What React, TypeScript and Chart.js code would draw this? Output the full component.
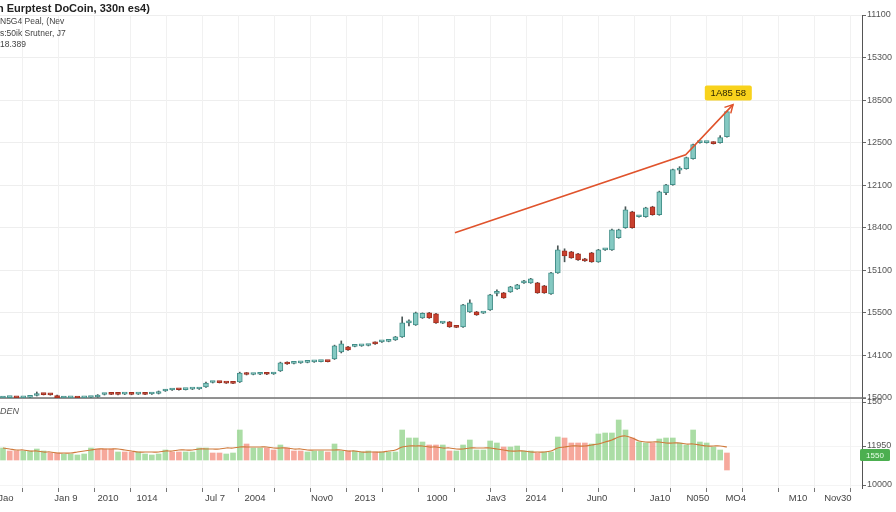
import React, { useEffect, useRef } from "react";
import { Chart, registerables } from "chart.js";
Chart.register(...registerables);

// ---------- DATA ----------
const opens = [14000,14004,14005,14002,14006,14025,14040,14038,14025,14000,
 14002,14004,14002,14005,14010,14035,14042,14040,14038,14040,
 14039,14042,14040,14045,14070,14080,14085,14084,14088,14090,
 14110,14155,14160,14154,14150,14160,14250,14235,14237,14242,
 14240,14270,14355,14345,14350,14355,14360,14364,14368,14390,
 14460,14510,14515,14520,14524,14555,14560,14565,14580,14610,
 14750,14730,14800,14850,14840,14748,14760,14710,14710,14860,
 14860,14848,14880,15045,15050,15060,15090,15150,15150,15150,
 15120,15040,15250,15470,15460,15440,15390,15450,15360,15480,
 15480,15600,15700,15860,15810,15810,15910,15830,16050,16130,
 16275,16290,16390,16550,16550,16555,16550,16610];
const closes = [14005,14007,14002,14006,14008,14045,14034,14032,14000,14004,
 14005,14000,14005,14007,14030,14040,14037,14036,14041,14036,
 14043,14037,14044,14065,14080,14085,14082,14088,14092,14094,
 14150,14160,14154,14149,14146,14250,14235,14238,14242,14237,
 14245,14350,14340,14350,14356,14360,14365,14369,14364,14520,
 14540,14480,14520,14525,14530,14540,14565,14570,14610,14750,
 14755,14850,14845,14800,14750,14752,14710,14706,14930,14950,
 14830,14852,15030,15050,15000,15110,15130,15170,15190,15050,
 15050,15250,15480,15420,15400,15380,15370,15360,15480,15485,
 15680,15680,15880,15700,15815,15900,15830,16060,16130,16280,
 16280,16400,16530,16560,16553,16540,16600,16860];
const highs = [14010,14012,14010,14010,14012,14060,14045,14042,14030,14008,
 14009,14008,14009,14011,14034,14045,14046,14044,14045,14044,
 14047,14046,14048,14070,14085,14090,14089,14092,14096,14098,
 14158,14165,14164,14158,14154,14258,14255,14242,14246,14246,
 14249,14358,14360,14354,14360,14364,14369,14373,14372,14528,
 14570,14515,14524,14529,14534,14560,14569,14574,14615,14810,
 14780,14858,14850,14855,14845,14757,14765,14714,14936,14980,
 14865,14856,15036,15080,15055,15115,15135,15175,15195,15155,
 15125,15255,15520,15490,15465,15445,15395,15455,15485,15490,
 15686,15686,15910,15865,15820,15905,15915,16066,16135,16286,
 16310,16406,16536,16565,16558,16560,16620,16866];
const lows = [13995,14000,13998,13998,14002,14020,14030,14028,13996,13996,
 13998,13996,13998,14001,14006,14030,14033,14032,14034,14032,
 14035,14033,14036,14040,14066,14076,14078,14080,14084,14086,
 14105,14150,14150,14145,14142,14155,14230,14231,14233,14233,
 14236,14265,14336,14341,14346,14351,14356,14360,14360,14385,
 14450,14475,14511,14516,14520,14536,14556,14561,14575,14605,
 14720,14725,14795,14795,14745,14743,14705,14702,14705,14855,
 14825,14844,14875,15020,14995,15055,15085,15145,15145,15045,
 15045,15035,15245,15360,15395,15375,15365,15355,15355,15475,
 15475,15595,15695,15695,15805,15805,15825,15825,16030,16125,
 16240,16285,16385,16545,16546,16536,16545,16605];

const volumes = [1200,900,900,900,900,1100,900,700,700,600,
 600,500,600,1200,1100,1100,1100,800,800,800,
 800,600,500,600,1000,800,800,800,800,1200,
 1200,700,700,600,700,3000,1600,1200,1200,1200,
 1000,1500,1200,900,900,800,900,900,800,1600,
 900,900,900,800,900,800,800,800,800,3000,
 2200,2200,1800,1500,1500,1500,900,900,1500,2000,
 1000,1000,1900,1700,1300,1300,1400,900,900,700,
 800,800,2300,2200,1700,1700,1700,1600,2600,2700,
 2700,4000,3000,2200,1800,1700,1700,2100,2200,2200,
 1700,1500,3000,1800,1700,1300,1000,700];
const lastVolumeLow = -1000;
const volumeUp = [1,0,0,1,1,1,1,0,0,1,
 1,1,1,1,0,0,0,1,0,0,
 1,1,1,1,1,0,0,1,1,1,
 1,0,0,1,1,1,0,1,1,0,
 0,1,0,0,0,1,1,1,0,1,
 1,0,1,1,1,0,1,1,1,1,
 1,1,1,0,0,1,0,1,1,1,
 1,1,1,1,0,1,1,1,1,0,
 1,1,1,0,0,0,0,1,1,1,
 1,1,1,0,1,1,0,1,1,1,
 1,1,1,1,1,1,1,0];
const volumeMA = [1200,1100,1000,1000,900,900,
 800,800,700,700,700,800,900,1000,
 1100,1100,1100,1100,1000,900,800,
 800,800,800,900,900,1000,1000,1000,
 1100,1100,1100,1100,1200,1200,
 1300,1300,1300,1300,1300,1200,1200,
 1200,1100,1100,1000,1000,1000,1000,
 1000,1000,900,900,800,800,800,800,900,1000,
 1300,1400,1400,1400,1300,1300,1200,1200,
 1100,1100,1200,1200,1200,1200,
 1100,1000,900,900,900,800,800,800,900,
 1200,1300,1400,1400,1400,1500,1600,1800,2000,
 2300,2400,2200,1900,1800,1800,
 1800,1700,1700,1700,1600,1600,1500,1400,1400,1400,
 1300];

const trendX = [66.8, 100.9, 107.9];
const trendY = [15650, 16430, 16930];
const annotationX = 107.2;
const annotationY = 17045;
const annotationLabel = "1A85 58";
const volumeTagValue = 500;
const volumeTagLabel = "1550";

const priceTickValues = [14000, 14425, 14850, 15275, 15700, 16125, 16550, 16975, 17400, 17825];
const priceTickLabels = ["15000", "14100", "15500", "15100", "18400", "12100", "12500", "18500", "15300", "11100"];
const volTickValues = [5800, 1400, -2500];
const volTickLabels = ["150", "11950", "10000"];
const xLabelPositions = [0.44, 9.31, 15.52, 21.28, 31.33, 37.25, 47.15, 53.5, 64.14, 72.86, 78.78, 87.79, 97.1, 102.7, 108.3, 117.5, 123.4];
const xLabels = ["Jao", "Jan 9", "2010", "1014", "Jul 7", "2004", "Nov0", "2013", "1000", "Jav3", "2014", "Jun0", "Ja10", "N050", "MO4", "M10", "Nov30"];

const titleLine = "n Eurptest DoCoin, 330n es4)";
const infoLines = ["N5G4 Peal, (Nev", "s:50ik Srutner, J7", "18.389"];
const volumePaneLabel = "DEN";

// ---------- STYLE ----------
const FONT = "'Liberation Sans', Arial, sans-serif";
const TEAL_FILL = "#84c9c2";
const TEAL_EDGE = "#438f89";
const RED_FILL = "#c9402e";
const RED_EDGE = "#a02f20";
const WICK = "#4a5656";
const VOL_UP = "rgba(120,200,110,0.62)";
const VOL_DOWN = "rgba(240,115,95,0.62)";
const MA_COLOR = "#cf7a3c";
const TREND_COLOR = "#e0532c";
const X_MIN = -0.44;
const X_MAX = 126.96;
const GRID_START = 2.95;
const GRID_STEP = 5.32;

const overlayPlugin = {
  id: "overlay",
  beforeDatasetsDraw(chart: any) {
    const { ctx, chartArea, scales } = chart;
    const y = scales.y;
    ctx.save();
    ctx.strokeStyle = "#6f6f6f";
    ctx.lineWidth = 1.5;
    ctx.beginPath();
    ctx.moveTo(chartArea.left, y.bottom);
    ctx.lineTo(chartArea.right + 4, y.bottom);
    ctx.stroke();
    ctx.restore();
  },
  afterDatasetsDraw(chart: any) {
    const { ctx, scales } = chart;
    const x = scales.x, y = scales.y, yv = scales.yVol;
    ctx.save();
    // arrow head
    const n = trendX.length;
    const ax = x.getPixelForValue(trendX[n - 1]);
    const ay = y.getPixelForValue(trendY[n - 1]);
    const bx = x.getPixelForValue(trendX[n - 2]);
    const by = y.getPixelForValue(trendY[n - 2]);
    const ang = Math.atan2(ay - by, ax - bx);
    ctx.strokeStyle = TREND_COLOR;
    ctx.lineWidth = 1.5;
    ctx.beginPath();
    ctx.moveTo(ax - 9 * Math.cos(ang - 0.5), ay - 9 * Math.sin(ang - 0.5));
    ctx.lineTo(ax, ay);
    ctx.lineTo(ax - 9 * Math.cos(ang + 0.5), ay - 9 * Math.sin(ang + 0.5));
    ctx.stroke();
    // yellow label
    const cx = x.getPixelForValue(annotationX);
    const cy = y.getPixelForValue(annotationY);
    const w = 47, h = 15;
    ctx.fillStyle = "#f8d21c";
    ctx.beginPath();
    (ctx as any).roundRect(cx - w / 2, cy - h / 2, w, h, 2);
    ctx.fill();
    ctx.fillStyle = "#2e2600";
    ctx.font = `9.5px ${FONT}`;
    ctx.textAlign = "center";
    ctx.textBaseline = "middle";
    ctx.fillText(annotationLabel, cx, cy + 0.5);
    // green tag on volume axis
    const ty = yv.getPixelForValue(volumeTagValue);
    ctx.fillStyle = "#4caf50";
    ctx.beginPath();
    (ctx as any).roundRect(yv.left - 2, ty - 6, 30, 12, 1.5);
    ctx.fill();
    ctx.fillStyle = "#e8ffe8";
    ctx.font = `8px ${FONT}`;
    ctx.fillText(volumeTagLabel, yv.left + 13, ty + 0.5);
    ctx.restore();
  },
};

export default function App() {
  const ref = useRef<HTMLCanvasElement>(null);
  useEffect(() => {
    const canvas = ref.current;
    if (!canvas) return;
    const last = closes.length - 1;
    const isUp = (i: number) => closes[i] >= opens[i];
    const chart = new Chart(canvas, {
      type: "bar",
      data: {
        datasets: [
          {
            type: "line",
            label: "trend",
            data: trendX.map((v, i) => ({ x: v, y: trendY[i] })),
            yAxisID: "y",
            xAxisID: "x",
            borderColor: TREND_COLOR,
            borderWidth: 1.6,
            pointRadius: 0,
            tension: 0,
            order: 1,
          } as any,
          {
            type: "bar",
            label: "body",
            data: closes.map((c, i) => ({ x: i, y: [opens[i], c] })),
            yAxisID: "y",
            xAxisID: "x",
            grouped: false,
            barThickness: 5,
            minBarLength: 2,
            backgroundColor: (c: any) => (isUp(c.dataIndex) ? TEAL_FILL : RED_FILL),
            borderColor: (c: any) => (isUp(c.dataIndex) ? TEAL_EDGE : RED_EDGE),
            borderWidth: 1,
            borderSkipped: false,
            order: 2,
          } as any,
          {
            type: "bar",
            label: "wick",
            data: highs.map((h, i) => ({ x: i, y: [lows[i], h] })),
            yAxisID: "y",
            xAxisID: "x",
            grouped: false,
            barThickness: 1,
            backgroundColor: WICK,
            borderWidth: 0,
            order: 3,
          } as any,
          {
            type: "line",
            label: "volMA",
            data: volumeMA.map((v, i) => ({ x: i, y: v })),
            yAxisID: "yVol",
            xAxisID: "x",
            borderColor: MA_COLOR,
            borderWidth: 1.2,
            pointRadius: 0,
            tension: 0.35,
            order: 4,
          } as any,
          {
            type: "bar",
            label: "volume",
            data: volumes.map((v, i) => ({ x: i, y: i === last ? [lastVolumeLow, v] : v })),
            yAxisID: "yVol",
            xAxisID: "x",
            grouped: false,
            barThickness: 5,
            backgroundColor: (c: any) => (volumeUp[c.dataIndex] ? VOL_UP : VOL_DOWN),
            borderWidth: 0,
            order: 5,
          } as any,
        ],
      },
      options: {
        responsive: false,
        animation: false,
        events: [],
        layout: { padding: { top: 15, left: 0, right: 0, bottom: 0 } },
        plugins: { legend: { display: false }, tooltip: { enabled: false } },
        scales: {
          y: {
            type: "linear",
            position: "right",
            stack: "main",
            stackWeight: 383,
            weight: 0,
            min: 14000,
            max: 17825,
            afterBuildTicks: (s: any) => {
              s.ticks = priceTickValues.map((v) => ({ value: v }));
            },
            afterFit: (s: any) => {
              s.width = 34;
              s.paddingTop = 0;
              s.paddingBottom = 0;
            },
            ticks: {
              autoSkip: false,
              padding: 1,
              color: "#555",
              font: { family: FONT, size: 9 },
              callback: (_v: any, i: number) => priceTickLabels[i],
            },
            grid: { color: "#eeeeee", tickColor: "#666", tickLength: 4, drawTicks: true },
            border: { display: true, color: "#555", width: 1 },
          },
          yVol: {
            type: "linear",
            position: "right",
            stack: "main",
            stackWeight: 90,
            weight: 1,
            min: -2800,
            max: 6200,
            afterBuildTicks: (s: any) => {
              s.ticks = volTickValues.map((v) => ({ value: v }));
            },
            afterFit: (s: any) => {
              s.width = 34;
              s.paddingTop = 0;
              s.paddingBottom = 0;
            },
            ticks: {
              autoSkip: false,
              padding: 1,
              color: "#555",
              font: { family: FONT, size: 9 },
              callback: (_v: any, i: number) => volTickLabels[i],
            },
            grid: { color: "#f4f4f4", tickColor: "#666", tickLength: 4, drawTicks: true },
            border: { display: true, color: "#555", width: 1 },
          },
          x2: {
            type: "linear",
            position: "bottom",
            weight: 0,
            min: X_MIN,
            max: X_MAX,
            offset: false,
            afterBuildTicks: (s: any) => {
              const t: any[] = [];
              for (let v = GRID_START; v <= X_MAX; v += GRID_STEP) t.push({ value: v });
              s.ticks = t;
            },
            afterFit: (s: any) => {
              s.height = 0;
              s.paddingLeft = 0;
              s.paddingRight = 0;
            },
            ticks: { display: false, autoSkip: false },
            grid: { color: "#f1f1f1", tickColor: "#777", tickLength: 4, drawTicks: true, offset: false },
            border: { display: false },
          },
          x: {
            type: "linear",
            position: "bottom",
            weight: 1,
            min: X_MIN,
            max: X_MAX,
            offset: false,
            afterBuildTicks: (s: any) => {
              s.ticks = xLabelPositions.map((v) => ({ value: v }));
            },
            afterFit: (s: any) => {
              s.height = 24;
              s.paddingLeft = 0;
              s.paddingRight = 0;
            },
            ticks: {
              autoSkip: false,
              maxRotation: 0,
              minRotation: 0,
              padding: 5,
              color: "#444",
              font: { family: FONT, size: 9.5 },
              callback: (_v: any, i: number) => xLabels[i],
            },
            grid: { display: false, drawTicks: false, offset: false },
            border: { display: false },
          },
        },
      } as any,
      plugins: [overlayPlugin],
    });
    return () => chart.destroy();
  }, []);

  return (
    <div
      style={{
        position: "fixed",
        left: 0,
        top: 0,
        width: 896,
        height: 512,
        background: "#fff",
        overflow: "hidden",
        fontFamily: FONT,
      }}
    >
      <canvas ref={ref} width={896} height={512} style={{ position: "absolute", left: 0, top: 0, width: 896, height: 512 }} />
      <div style={{ position: "absolute", left: -3, top: 2, fontSize: 11, fontWeight: 700, color: "#222", whiteSpace: "nowrap", lineHeight: "13px" }}>
        {titleLine}
      </div>
      {infoLines.map((t, i) => (
        <div
          key={i}
          style={{ position: "absolute", left: 0, top: 16 + i * 11.5, fontSize: 8.5, color: "#444", whiteSpace: "nowrap", lineHeight: "10px" }}
        >
          {t}
        </div>
      ))}
      <div style={{ position: "absolute", left: 0, top: 406, fontSize: 9, fontStyle: "italic", color: "#555", lineHeight: "11px" }}>
        {volumePaneLabel}
      </div>
    </div>
  );
}
